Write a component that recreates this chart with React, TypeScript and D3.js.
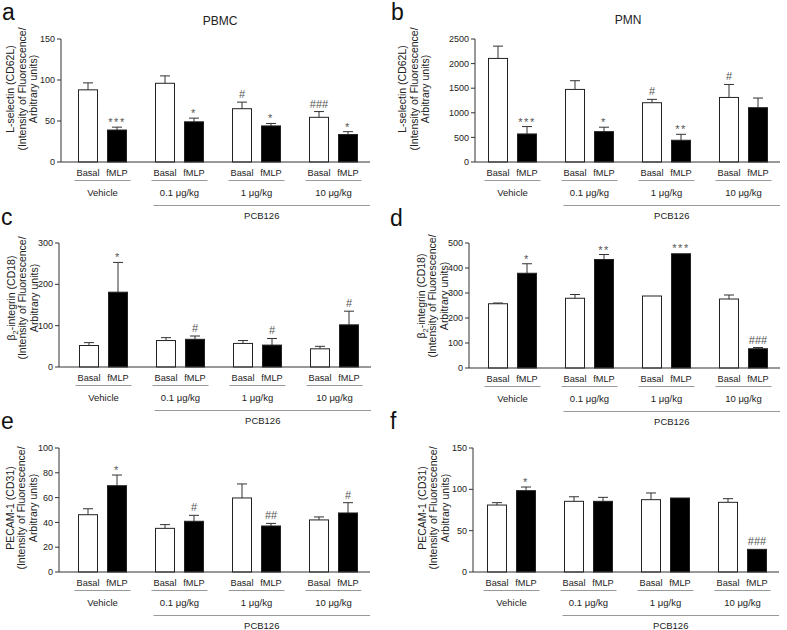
import React from "react";
import * as d3 from "d3";

const groups = ["Vehicle", "0.1 μg/kg", "1 μg/kg", "10 μg/kg"];
const treatments = ["Basal", "fMLP"];

// Panel a: L-selectin PBMC
const aBasal = [88, 96, 65, 54.5];
const aBasalTop = [96.5, 105, 73, 61.5];
const aFmlp = [39, 49, 44, 33.5];
const aFmlpTop = [42.5, 53.5, 47, 37];
const aBasalSig = ["", "", "#", "###"];
const aFmlpSig = ["***", "*", "*", "*"];
const aTicks = [0, 50, 100, 150];

// Panel b: L-selectin PMN
const bBasal = [2105, 1475, 1205, 1312];
const bBasalTop = [2355, 1652, 1273, 1576];
const bFmlp = [570, 617, 442, 1104];
const bFmlpTop = [720, 707, 563, 1300];
const bBasalSig = ["", "", "#", "#"];
const bFmlpSig = ["***", "*", "**", ""];
const bTicks = [0, 500, 1000, 1500, 2000, 2500];

// Panel c: beta2-integrin PBMC
const cBasal = [52, 64, 57, 44];
const cBasalTop = [59, 71, 64, 50];
const cFmlp = [181, 67, 53, 102];
const cFmlpTop = [253, 75, 69, 135];
const cBasalSig = ["", "", "", ""];
const cFmlpSig = ["*", "#", "#", "#"];
const cTicks = [0, 100, 200, 300];

// Panel d: beta2-integrin PMN
const dBasal = [257, 279, 288, 276];
const dBasalTop = [260, 294, 289, 292];
const dFmlp = [379, 434, 457, 77];
const dFmlpTop = [417, 454, 459, 82];
const dBasalSig = ["", "", "", ""];
const dFmlpSig = ["*", "**", "***", "###"];
const dTicks = [0, 100, 200, 300, 400, 500];

// Panel e: PECAM-1 PBMC
const eBasal = [46.2, 35.2, 59.7, 42];
const eBasalTop = [51, 38.2, 71, 44.4];
const eFmlp = [69.6, 40.9, 37.1, 47.6];
const eFmlpTop = [78.2, 45.7, 39.2, 55.9];
const eBasalSig = ["", "", "", ""];
const eFmlpSig = ["*", "#", "##", "#"];
const eTicks = [0, 20, 40, 60, 80, 100];

// Panel f: PECAM-1 PMN
const fBasal = [81, 85.5, 87.5, 84.3];
const fBasalTop = [83.9, 91, 95.6, 88.7];
const fFmlp = [98.4, 85.5, 89.5, 27.4];
const fFmlpTop = [102.8, 90.3, 89.5, 27.4];
const fBasalSig = ["", "", "", ""];
const fFmlpSig = ["*", "", "", "###"];
const fTicks = [0, 50, 100, 150];

const labelL = ["L-selectin (CD62L)", "(Intensity of Fluorescence/", "Arbitrary units)"];
const labelB = ["β2-integrin (CD18)", "(Intensity of Fluorescence/", "Arbitrary units)"];
const labelP = ["PECAM-1 (CD31)", "(Intensity of Fluorescence/", "Arbitrary units)"];

const FONT = "'Liberation Sans', Arial, Helvetica, sans-serif";
const TXT = "#222";
const AX = "#333";

type PanelCfg = {
  letter: string; lx: number; ly: number;
  axisX: number; yTop: number; y0: number; ticks: number[];
  barStart: number;
  title?: string; titleX?: number; titleY?: number;
  label: string[]; labelMidX: number; labelCY: number;
  basal: number[]; basalTop: number[]; fmlp: number[]; fmlpTop: number[];
  basalSig: string[]; fmlpSig: string[];
};

function YLabelLine({ text, x, y }: { text: string; x: number; y: number }) {
  const isBeta = text.startsWith("β2");
  return (
    <text transform={`translate(${x},${y}) rotate(-90)`} textAnchor="middle" dominantBaseline="central"
      fontSize={10.5} fill={TXT} fontFamily={FONT}>
      {isBeta ? (
        <>
          β<tspan fontSize={7.5} baselineShift="sub">2</tspan>-integrin (CD18)
        </>
      ) : text}
    </text>
  );
}

function Panel({ c }: { c: PanelCfg }) {
  const max = c.ticks[c.ticks.length - 1];
  const y = d3.scaleLinear().domain([0, max]).range([c.y0, c.yTop]);
  const xOuter = d3.scaleBand<string>().domain(groups).range([c.barStart, c.barStart + 280]).paddingInner(28 / 77).paddingOuter(0);
  const xInner = d3.scaleBand<string>().domain(treatments).range([0, xOuter.bandwidth()]).paddingInner(9 / 29);
  const bw = xInner.bandwidth();
  const baseEnd = c.barStart + 280 + 12;
  const series = [
    { t: "Basal", vals: c.basal, tops: c.basalTop, sig: c.basalSig, fill: "#fff" },
    { t: "fMLP", vals: c.fmlp, tops: c.fmlpTop, sig: c.fmlpSig, fill: "#000" },
  ];
  const gc = (g: string) => (xOuter(g) as number) + xOuter.bandwidth() / 2;
  const spacing = 11.5;
  return (
    <g>
      <text x={c.lx} y={c.ly} fontSize={23} fill="#111" fontFamily={FONT}>{c.letter}</text>
      {c.title && (
        <text x={c.titleX} y={c.titleY} textAnchor="middle" fontSize={12} fill={TXT} fontFamily={FONT}>{c.title}</text>
      )}
      {c.label.map((t, i) => (
        <YLabelLine key={i} text={t} x={c.labelMidX + (i - 1) * spacing} y={c.labelCY} />
      ))}
      {/* y axis */}
      <line x1={c.axisX} x2={c.axisX} y1={c.y0} y2={y(max)} stroke={AX} strokeWidth={1} />
      {c.ticks.map((t) => (
        <g key={t}>
          <line x1={c.axisX - 4} x2={c.axisX} y1={y(t)} y2={y(t)} stroke={AX} strokeWidth={1} />
          <text x={c.axisX - 6} y={y(t)} dy="0.35em" textAnchor="end" fontSize={9} fill={TXT} fontFamily={FONT}>{t}</text>
        </g>
      ))}
      {/* bars */}
      {series.map((s) =>
        groups.map((g, i) => {
          const x = (xOuter(g) as number) + (xInner(s.t) as number);
          const v = s.vals[i];
          const top = s.tops[i];
          const cx = x + bw / 2;
          const hasErr = y(v) - y(top) > 0.6;
          const sig = s.sig[i];
          const isStar = sig.startsWith("*");
          return (
            <g key={s.t + g}>
              {hasErr && (
                <>
                  <line x1={cx} x2={cx} y1={y(v)} y2={y(top)} stroke={AX} strokeWidth={1} />
                  <line x1={cx - 5} x2={cx + 5} y1={y(top)} y2={y(top)} stroke={AX} strokeWidth={1} />
                </>
              )}
              <rect x={x + 0.5} y={y(v)} width={bw - 1} height={c.y0 - y(v)} fill={s.fill} stroke="#222" strokeWidth={1} />
              {sig && (
                <text x={cx} y={y(top) - (isStar ? 1 : 4)} textAnchor="middle" fontSize={11}
                  letterSpacing={isStar ? 1.5 : 0} fill="#555" fontFamily={FONT}>{sig}</text>
              )}
              <text x={cx} y={c.y0 + 14.3} textAnchor="middle" fontSize={9.2} fill={TXT} fontFamily={FONT}>{s.t}</text>
            </g>
          );
        })
      )}
      {/* x baseline */}
      <line x1={c.axisX} x2={baseEnd} y1={c.y0} y2={c.y0} stroke={AX} strokeWidth={1} />
      {/* group underlines and labels */}
      {groups.map((g) => (
        <g key={g}>
          <line x1={gc(g) - 28} x2={gc(g) + 28} y1={c.y0 + 18.5} y2={c.y0 + 18.5} stroke="#999" strokeWidth={1} />
          <text x={gc(g)} y={c.y0 + 34.3} textAnchor="middle" fontSize={9.5} fill={TXT} fontFamily={FONT}>{g}</text>
        </g>
      ))}
      <line x1={gc(groups[1]) - 26} x2={baseEnd} y1={c.y0 + 43.5} y2={c.y0 + 43.5} stroke="#999" strokeWidth={1} />
      <text x={(gc(groups[1]) - 26 + baseEnd) / 2} y={c.y0 + 57} textAnchor="middle" fontSize={9.5} fill={TXT} fontFamily={FONT}>PCB126</text>
    </g>
  );
}

const panels: PanelCfg[] = [
  { letter: "a", lx: 2, ly: 20, axisX: 61, yTop: 39, y0: 162, ticks: aTicks, barStart: 78,
    title: "PBMC", titleX: 220, titleY: 25, label: labelL, labelMidX: 21.5, labelCY: 89,
    basal: aBasal, basalTop: aBasalTop, fmlp: aFmlp, fmlpTop: aFmlpTop, basalSig: aBasalSig, fmlpSig: aFmlpSig },
  { letter: "b", lx: 391, ly: 20, axisX: 475, yTop: 39, y0: 162, ticks: bTicks, barStart: 488,
    title: "PMN", titleX: 628, titleY: 24, label: labelL, labelMidX: 413.5, labelCY: 89,
    basal: bBasal, basalTop: bBasalTop, fmlp: bFmlp, fmlpTop: bFmlpTop, basalSig: bBasalSig, fmlpSig: bFmlpSig },
  { letter: "c", lx: 1, ly: 225, axisX: 59, yTop: 243, y0: 367, ticks: cTicks, barStart: 79,
    label: labelB, labelMidX: 22, labelCY: 298,
    basal: cBasal, basalTop: cBasalTop, fmlp: cFmlp, fmlpTop: cFmlpTop, basalSig: cBasalSig, fmlpSig: cFmlpSig },
  { letter: "d", lx: 390, ly: 226, axisX: 469, yTop: 243, y0: 368, ticks: dTicks, barStart: 488,
    label: labelB, labelMidX: 432, labelCY: 296,
    basal: dBasal, basalTop: dBasalTop, fmlp: dFmlp, fmlpTop: dFmlpTop, basalSig: dBasalSig, fmlpSig: dFmlpSig },
  { letter: "e", lx: 1, ly: 429, axisX: 59, yTop: 448, y0: 572, ticks: eTicks, barStart: 78,
    label: labelP, labelMidX: 21, labelCY: 508,
    basal: eBasal, basalTop: eBasalTop, fmlp: eFmlp, fmlpTop: eFmlpTop, basalSig: eBasalSig, fmlpSig: eFmlpSig },
  { letter: "f", lx: 390, ly: 429, axisX: 473, yTop: 448, y0: 572, ticks: fTicks, barStart: 487,
    label: labelP, labelMidX: 433, labelCY: 508,
    basal: fBasal, basalTop: fBasalTop, fmlp: fFmlp, fmlpTop: fFmlpTop, basalSig: fBasalSig, fmlpSig: fFmlpSig },
];

export default function App() {
  return (
    <svg width={787} height={630} viewBox="0 0 787 630"
      style={{ position: "absolute", left: 0, top: 0, background: "#fff" }}>
      <rect width={787} height={630} fill="#fff" />
      {panels.map((p) => (
        <Panel key={p.letter} c={p} />
      ))}
    </svg>
  );
}
